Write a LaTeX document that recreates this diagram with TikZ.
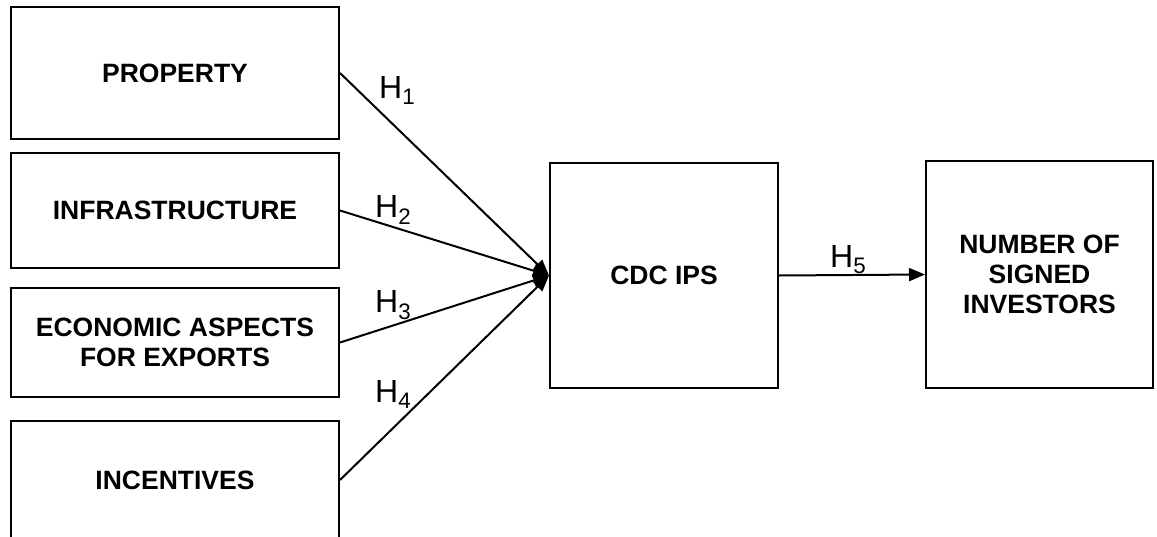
\documentclass[tikz,border=0pt]{standalone}
\usepackage{fontspec}
\setmainfont{Liberation Sans}
\usetikzlibrary{arrows.meta}

\begin{document}
\begin{tikzpicture}[x=1pt, y=-1pt,
  caja/.style={rectangle, draw, line width=2pt, align=center, inner sep=0pt,
               font=\fontsize{26.5}{30}\selectfont\bfseries},
  flecha/.style={-{Triangle[length=16pt,width=13pt]}, line width=2pt},
  hip/.style={font=\fontsize{32}{36}\selectfont, inner sep=0pt, anchor=base west}]
\useasboundingbox (0,0) rectangle (1157,536);
\node[caja, minimum width=328pt, minimum height=132pt](prop) at (175,73){PROPERTY};
\node[caja, minimum width=328pt, minimum height=115pt](infra) at (175,210.5){INFRASTRUCTURE};
\node[caja, minimum width=328pt, minimum height=109pt](econ) at (175,342.5){ECONOMIC ASPECTS\\FOR EXPORTS};
\node[caja, minimum width=328pt, minimum height=118pt](incen) at (175,480){INCENTIVES};
\node[caja, minimum width=228pt, minimum height=225pt](cdc) at (664,275.5){CDC IPS};
\node[caja, minimum width=227pt, minimum height=227pt](inv) at (1039.5,274.5){NUMBER OF\\SIGNED\\INVESTORS};
\draw[flecha](prop.east)--(cdc.west);
\draw[flecha](infra.east)--(cdc.west);
\draw[flecha](econ.east)--(cdc.west);
\draw[flecha](incen.east)--(cdc.west);
\draw[flecha](cdc.east)--(inv.west);
\node[hip](h1) at (379,98){H\textsubscript{1}};
\node[hip](h2) at (375,217){H\textsubscript{2}};
\node[hip](h3) at (375,312){H\textsubscript{3}};
\node[hip](h4) at (375,402){H\textsubscript{4}};
\node[hip](h5) at (830,267){H\textsubscript{5}};
\end{tikzpicture}
\end{document}
